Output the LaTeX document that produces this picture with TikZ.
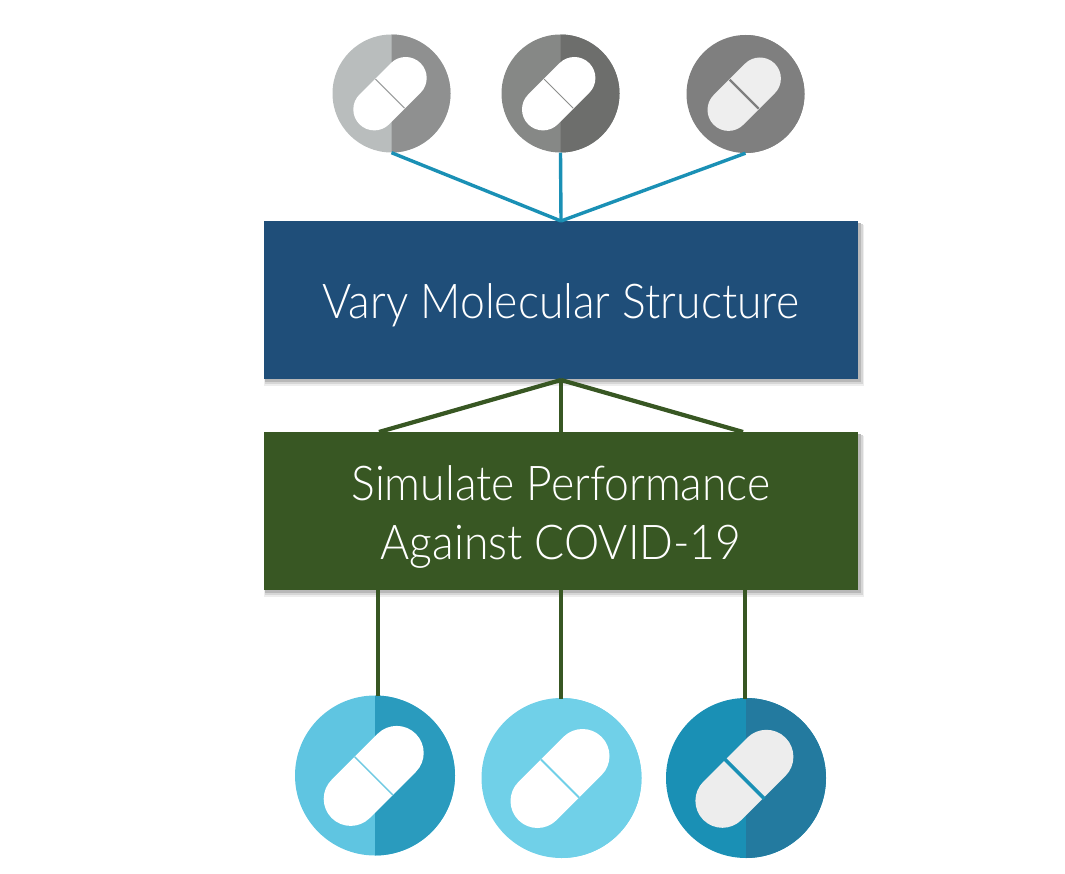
\documentclass[tikz,border=0pt]{standalone}
\usepackage{fontspec}
\setmainfont{Lato Light}[FakeStretch=0.927]
\definecolor{bluebox}{HTML}{1F4E79}
\definecolor{greenbox}{HTML}{385723}
\definecolor{teal}{HTML}{1A90B5}
\definecolor{shadowa}{HTML}{EDEDED}
\definecolor{shadowb}{HTML}{D6D6D6}
\definecolor{shadowc}{HTML}{B8B8B8}
\definecolor{tal}{HTML}{B9BDBD}
\definecolor{tar}{HTML}{8F9090}
\definecolor{tad}{HTML}{9A9C9C}
\definecolor{tbl}{HTML}{868886}
\definecolor{tbr}{HTML}{6D6E6C}
\definecolor{tbd}{HTML}{8C8E8C}
\definecolor{tcc}{HTML}{7F7F7F}
\definecolor{tcp}{HTML}{EEEEEE}
\definecolor{bal}{HTML}{5FC5E1}
\definecolor{bar}{HTML}{2A9BBE}
\definecolor{bad}{HTML}{6FC9E2}
\definecolor{bbc}{HTML}{70D0E8}
\definecolor{bcl}{HTML}{1A90B5}
\definecolor{bcr}{HTML}{237A9F}
\definecolor{bcp}{HTML}{EDEDED}
\tikzset{
  x=1pt,y=-1pt,
  textbox/.style={rectangle,inner sep=0pt,minimum width=594pt,minimum height=158pt,text=white},
  boxtext/.style={text=white,inner sep=0pt,align=center,font=\fontsize{48}{59}\selectfont},
  tealline/.style={draw=teal,line width=3.4pt},
  greenline/.style={draw=greenbox,line width=4.2pt},
  disc/.style={circle,inner sep=0pt,minimum size=#1},
}
% name, cx, cy, diameter, left colour, right colour
\newcommand{\pilldisc}[6]{%
  \node[disc=#4pt,fill=#5] (#1) at (#2,#3) {};
  \begin{scope}
    \clip (#2,#3-100) rectangle (#2+100,#3+100);
    \fill[#6] (#2,#3) circle[radius=#4pt/2];
  \end{scope}
}
% cx, cy, half-offset, width, colour, divider half-extent, divider width, divider colour
\newcommand{\pillbody}[8]{%
  \draw[#5,line width=#4pt,line cap=round] (#1-#3,#2+#3) -- (#1+#3,#2-#3);
  \draw[line width=#7pt,color=#8] (#1-#6,#2-#6) -- (#1+#6,#2+#6);
}
% x0, y0, y1 of a box: its soft shadow
\newcommand{\softshadow}[3]{%
  \fill[shadowa] (#1,#2+4) rectangle (#1+600,#3+7);
  \fill[shadowb] (#1+1,#2+3) rectangle (#1+598.5,#3+5);
  \fill[shadowc] (#1+1,#2+2) rectangle (#1+596.5,#3+2.5);
}
\begin{document}
\begin{tikzpicture}
\useasboundingbox (0,0) rectangle (1065,874);
% shadows
\softshadow{264}{221}{379}
\softshadow{264}{432}{590}
% boxes
\node[textbox,fill=bluebox] (vary) at (561,300) {};
\node[boxtext] (varytext) at (561,305) {Vary Molecular Structure};
\node[textbox,fill=greenbox] (sim) at (561,511) {};
\node[boxtext] (simtext) at (561,517) {Simulate Performance\\Against COVID-19};
% top icons
\pilldisc{ta}{391.5}{93.5}{118}{tal}{tar}
\pillbody{390}{93.7}{15.7}{42}{white}{14.5}{1}{tad}
\pilldisc{tb}{560.5}{93.5}{118}{tbl}{tbr}
\pillbody{558.7}{93.7}{15.7}{42}{white}{14.5}{1}{tbd}
\pilldisc{tc}{745.5}{94}{118}{tcc}{tcc}
\pillbody{744.2}{94.2}{15.7}{42}{tcp}{14.5}{2.2}{tcc}
% bottom icons
\pilldisc{ba}{375}{775.5}{160}{bal}{bar}
\pillbody{373.7}{775.9}{23}{54}{white}{19}{1.4}{bad}
\pilldisc{bb}{561.5}{778}{160}{bbc}{bbc}
\pillbody{560}{778.5}{22.5}{54}{white}{19}{2}{bbc}
\pilldisc{bc}{746}{778}{160}{bcl}{bcr}
\pillbody{744.4}{778.8}{22}{54}{bcp}{20}{3.6}{bcl}
% connector ends
\coordinate (apex) at (561,221);
\coordinate (vb) at (561,380);
\coordinate (sa) at (379,432);
\coordinate (sb) at (561,432);
\coordinate (sc) at (743,432);
\coordinate (ga) at (378,590);
\coordinate (gb) at (561,590);
\coordinate (gc) at (745,590);
\coordinate (ca) at (378,696);
\coordinate (cb) at (561,699);
\coordinate (cc) at (745,699);
% connectors
\draw[tealline] (ta.south) -- (apex);
\draw[tealline] (tb.south) -- (apex);
\draw[tealline] (tc.south) -- (apex);
\draw[greenline] (vb) -- (sa);
\draw[greenline] (vb) -- (sb);
\draw[greenline] (vb) -- (sc);
\draw[greenline] (ga) -- (ca);
\draw[greenline] (gb) -- (cb);
\draw[greenline] (gc) -- (cc);
\end{tikzpicture}
\end{document}
